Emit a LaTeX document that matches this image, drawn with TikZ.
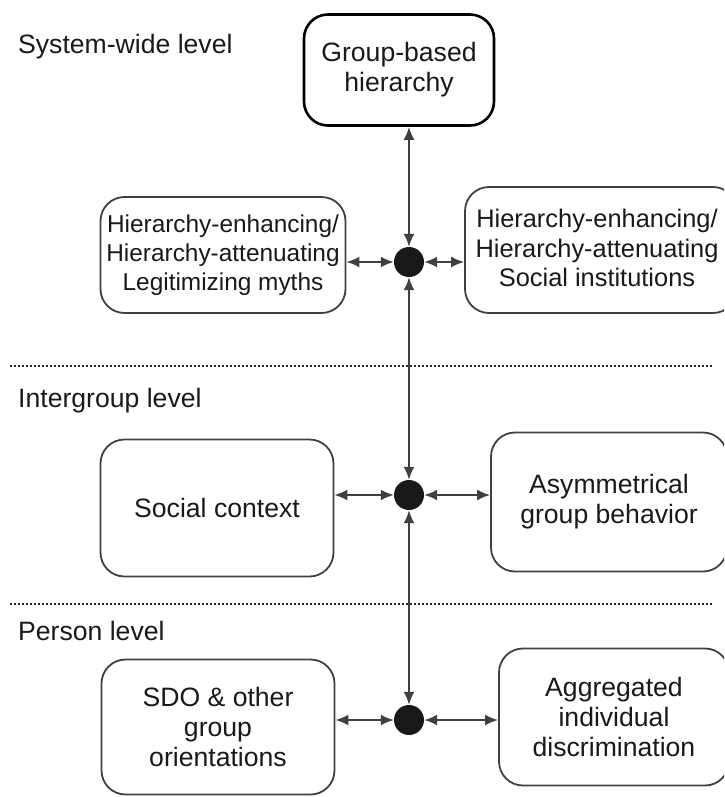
\documentclass[tikz,border=0pt]{standalone}
\usepackage{fontspec}
\setmainfont{Liberation Sans}
\usetikzlibrary{arrows.meta}

\begin{document}
\begin{tikzpicture}[x=1pt, y=-1pt,
  every node/.style={font=\fontsize{26.6}{30}\selectfont, text=black!90},
  box/.style={draw=black!75, line width=1.8pt, rounded corners=24pt, align=center, inner sep=0pt},
  topbox/.style={box, draw=black, line width=2.6pt},
  hub/.style={circle, fill=black!90, inner sep=0pt, minimum size=30pt},
  link/.style={line width=2pt, draw=black!75, {Latex[length=13pt,width=11pt]}-{Latex[length=13pt,width=11pt]}},
  level/.style={anchor=west, inner sep=0pt},
  sep/.style={line width=2pt, dotted, draw=black!85}]
\useasboundingbox (0,0) rectangle (724,797);
\clip (0,0) rectangle (724,797);

% System-wide level
\node[level] (lsys) at (18,47) {System-wide level};
\node[topbox, minimum width=190pt, minimum height=111pt] (hier) at (399,70) {Group-based\\hierarchy};
\node[box, minimum width=245pt, minimum height=116pt, font=\fontsize{24.4}{29}\selectfont] (myths) at (223,255) {Hierarchy-enhancing/\\Hierarchy-attenuating\\Legitimizing myths};
\node[box, minimum width=272pt, minimum height=126pt, font=\fontsize{25.4}{29.5}\selectfont] (inst) at (601,250) {};
\node[align=center, inner sep=0pt, font=\fontsize{25.4}{29.5}\selectfont] (insttxt) at (597,248) {Hierarchy-enhancing/\\Hierarchy-attenuating\\Social institutions};
\node[hub] (d1) at (409,262) {};

% Intergroup level
\coordinate (s1a) at (10,366);
\coordinate (s1b) at (712,366);
\draw[sep] (s1a) -- (s1b);
\node[level] (linter) at (18,401) {Intergroup level};
\node[box, minimum width=233pt, minimum height=137pt] (context) at (217,508) {Social context};
\node[box, minimum width=236pt, minimum height=139pt] (asym) at (609,502) {Asymmetrical\\group behavior};
\node[hub] (d2) at (409,495) {};

% Person level
\coordinate (s2a) at (10,604);
\coordinate (s2b) at (712,604);
\draw[sep] (s2a) -- (s2b);
\node[level] (lpers) at (18,631) {Person level};
\node[box, minimum width=233pt, minimum height=135pt] (sdo) at (218,727) {SDO \& other\\group\\orientations};
\node[box, minimum width=230pt, minimum height=137pt] (aggr) at (614,717) {Aggregated\\individual\\discrimination};
\node[hub] (d3) at (409,720) {};

% connectors
\draw[link] (hier.south -| d1) -- (d1);
\draw[link] (d1) -- (d2);
\draw[link] (d2) -- (d3);
\draw[link] (myths.east |- d1) -- (d1);
\draw[link] (d1) -- (inst.west |- d1);
\draw[link] (context.east |- d2) -- (d2);
\draw[link] (d2) -- (asym.west |- d2);
\draw[link] (sdo.east |- d3) -- (d3);
\draw[link] (d3) -- (aggr.west |- d3);
\end{tikzpicture}
\end{document}
